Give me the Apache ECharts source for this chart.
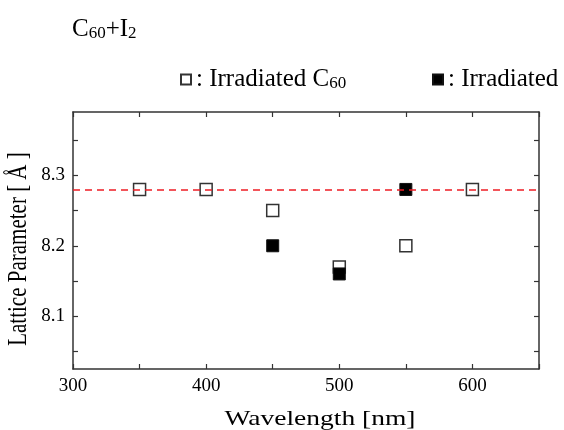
<!DOCTYPE html>
<html>
<head>
<meta charset="utf-8">
<script src="https://cdn.jsdelivr.net/npm/echarts@6/dist/echarts.min.js"></script>
<style>
  html, body { margin: 0; padding: 0; background: #fff; }
  #chart { width: 564px; height: 430px; }
</style>
</head>
<body>
<div id="chart"></div>
<script>
  // data
  var wavelengths = [350, 400, 450, 500, 550, 600]
  var latticeC60 = [8.28, 8.28, 8.25, 8.17, 8.20, 8.28]
  var wavelengthsI2 = [450, 500, 550]
  var latticeC60I2 = [8.20, 8.16, 8.28]
  var referenceLattice = 8.283
  var xLabelValues = [300, 400, 500, 600]
  var xTickValues = [300, 350, 400, 450, 500, 550, 600, 650]
  var yLabelValues = [8.1, 8.2, 8.3]
  var yTickValues = [8.05, 8.1, 8.15, 8.2, 8.25, 8.3, 8.35]

  var font = 'Liberation Serif'
  var axisColor = '#333'

  var chart = echarts.init(document.getElementById('chart'))

  function pairs(xs, ys) {
    return xs.map(function (x, i) { return [x, ys[i]] })
  }

  var xBase = {
    type: 'value',
    min: 300,
    max: 650,
    splitLine: { show: false },
    axisLine: { show: true, onZero: false, lineStyle: { color: axisColor, width: 1.5 } },
    axisTick: { show: true, inside: true, length: 5, customValues: xTickValues, lineStyle: { color: axisColor, width: 1.2 } }
  }
  var yBase = {
    type: 'value',
    min: 8.025,
    max: 8.39,
    splitLine: { show: false },
    axisLine: { show: true, onZero: false, lineStyle: { color: axisColor, width: 1.5 } },
    axisTick: { show: true, inside: true, length: 5, customValues: yTickValues, lineStyle: { color: axisColor, width: 1.2 } }
  }

  var sub = { fontFamily: font, fontSize: 17, color: '#000', padding: [9, 0, 0, 0] }
  var main = { fontFamily: font, fontSize: 25, color: '#000' }

  // one legend box per series, placed like the original text labels
  function legendAt(left, name, label) {
    return {
      left: left,
      top: 62,
      icon: 'rect',
      itemWidth: 10,
      itemHeight: 10,
      data: [name],
      formatter: function () { return label },
      textStyle: { rich: { m: main, s: sub } }
    }
  }

  chart.setOption({
    animation: false,
    backgroundColor: '#fff',
    title: {
      left: 67,
      top: 11,
      text: '{m|C}{s|60}{m|+I}{s|2}',
      textStyle: { fontWeight: 'normal', rich: { m: main, s: sub } }
    },
    legend: [
      legendAt(175, 'C60', '{m|: Irradiated C}{s|60}'),
      legendAt(427, 'C60+I2', '{m|: Irradiated}')
    ],
    grid: {
      left: 73,
      right: 25,
      top: 112,
      bottom: 61
    },
    // axis titles are a little stretched sideways in the original
    graphic: [
      {
        type: 'text',
        x: 320,
        y: 419,
        scaleX: 1.25,
        style: { text: 'Wavelength [nm]', fontFamily: font, fontSize: 22, fill: '#000', align: 'center', verticalAlign: 'middle' }
      },
      {
        type: 'text',
        x: 19,
        y: 249,
        rotation: Math.PI / 2,
        scaleY: 1.3,
        style: { text: 'Lattice Parameter [ Å ]', fontFamily: font, fontSize: 21, fill: '#000', align: 'center', verticalAlign: 'middle' }
      }
    ],
    xAxis: [
      Object.assign({}, xBase, {
        position: 'bottom',
        axisLabel: { customValues: xLabelValues, margin: 8, fontFamily: font, fontSize: 19, color: '#000' }
      }),
      Object.assign({}, xBase, {
        position: 'top',
        axisLabel: { show: false }
      })
    ],
    yAxis: [
      Object.assign({}, yBase, {
        position: 'left',
        axisLabel: { customValues: yLabelValues, margin: 8, fontFamily: font, fontSize: 19, color: '#000' }
      }),
      Object.assign({}, yBase, {
        position: 'right',
        axisLabel: { show: false }
      })
    ],
    series: [
      {
        name: 'C60',
        type: 'scatter',
        symbol: 'rect',
        symbolSize: 12,
        itemStyle: { color: '#fff', borderColor: axisColor, borderWidth: 1.5, opacity: 1 },
        data: pairs(wavelengths, latticeC60)
      },
      {
        name: 'C60+I2',
        type: 'scatter',
        symbol: 'rect',
        symbolSize: 12,
        itemStyle: { color: '#000', borderColor: '#111', borderWidth: 1, opacity: 1 },
        data: pairs(wavelengthsI2, latticeC60I2),
        markLine: {
          silent: true,
          symbol: 'none',
          label: { show: false },
          lineStyle: { color: '#ee1c25', width: 1.5, type: [7, 5], opacity: 1 },
          data: [{ yAxis: referenceLattice }]
        }
      }
    ]
  })
</script>
</body>
</html>
